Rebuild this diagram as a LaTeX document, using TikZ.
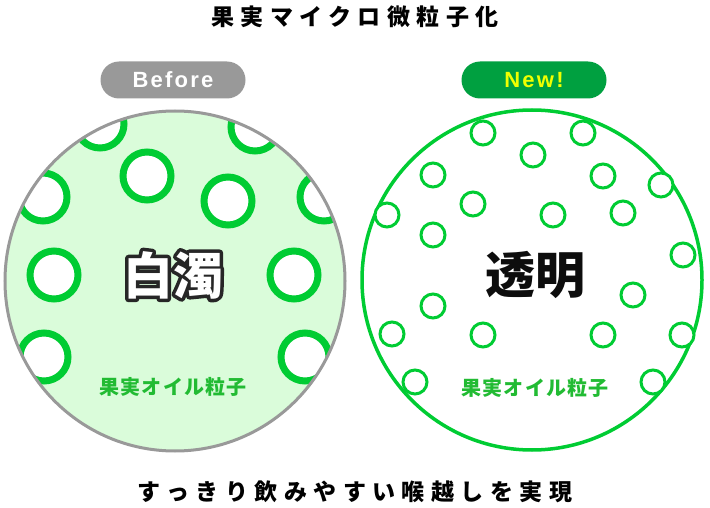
\documentclass[tikz,border=0pt]{standalone}
\usepackage{fontspec}
\usepackage{tikz}
\usetikzlibrary{calc}
\setmainfont{Liberation Sans}
\newfontfamily\jpfont{Noto Sans CJK JP}
\newfontfamily\jpwide{Noto Sans CJK JP}[LetterSpace=28]
\newfontfamily\jplabel{Noto Sans CJK JP}[LetterSpace=6]
\newfontfamily\pillfont{Liberation Sans}[LetterSpace=10]
\definecolor{ring_green}{RGB}{0, 204, 51}
\definecolor{label_green}{RGB}{34, 187, 51}
\definecolor{pill_gray}{RGB}{153, 153, 153}
\definecolor{pill_green}{RGB}{0, 160, 64}
\definecolor{cloud_fill}{RGB}{218, 252, 218}
\definecolor{new_yellow}{RGB}{240, 255, 0}
% stroked outline of a text, drawn under the filled copy
\newcommand{\outlinetext}[1]{\special{pdf:code q 7 w 1 j 0.15 0.15 0.15 RG 1 Tr}#1\special{pdf:code Q}}

\begin{document}
\begin{tikzpicture}[x=1pt, y=-1pt,
    headline/.style={inner sep=0pt, font=\jpwide\bfseries\fontsize{23}{23}\selectfont},
    pill/.style={rounded corners=18.5pt, minimum width=145pt, minimum height=37pt,
      inner sep=0pt, font=\pillfont\bfseries\fontsize{22}{22}\selectfont},
    bigword/.style={inner sep=0pt, font=\jpfont\bfseries\fontsize{50}{50}\selectfont},
    particle/.style={inner sep=0pt, text=label_green, font=\jplabel\bfseries\fontsize{20}{20}\selectfont},
    bigring/.style={draw=ring_green, fill=white, line width=7pt},
    smallring/.style={draw=ring_green, fill=white, line width=3pt}]
  \useasboundingbox (0,0) rectangle (710,508);
  \node[headline] (title) at (355,17) {果実マイクロ微粒子化};
  \node[pill, fill=pill_gray, text=white] (before) at (173,80) {Before};
  \node[pill, fill=pill_green, text=new_yellow] (new) at (534,80) {New!};
  % before: large particles, cloudy
  \coordinate (lc) at (175,281);
  \begin{scope}
    \clip (lc) circle[radius=170];
    \fill[cloud_fill] (lc) circle[radius=170];
    \foreach \x/\y in {100/124, 147/176, 255/127, 228/201, 43/197, 324/197,
                       54/275, 294/275, 44/357, 305/357}
      \draw[bigring] (\x,\y) circle[radius=24];
  \end{scope}
  \draw[pill_gray, line width=3pt] (lc) circle[radius=170];
  \node[bigword] at (173,275) {\outlinetext{白濁}};
  \node[bigword, text=white] (cloudy) at (173,275) {白濁};
  \node[particle] (oil_l) at (173,387) {果実オイル粒子};
  % new: micro particles, clear
  \coordinate (rc) at (532,280);
  \draw[ring_green, fill=white, line width=3.5pt] (rc) circle[radius=170];
  \foreach \x/\y in {483/133, 583/133, 533/155, 433/175, 603/176, 661/185,
                     473/204, 553/215, 623/213, 387/215, 433/235, 683/255,
                     633/295, 433/306, 392/334, 483/335, 603/335, 682/335,
                     415/382, 653/382}
    \draw[smallring] (\x,\y) circle[radius=12];
  \node[bigword, text=black!95] (clear) at (535,275) {透明};
  \node[particle] (oil_r) at (535,388) {果実オイル粒子};
  \node[headline] (claim) at (355,492) {すっきり飲みやすい喉越しを実現};
\end{tikzpicture}
\end{document}
